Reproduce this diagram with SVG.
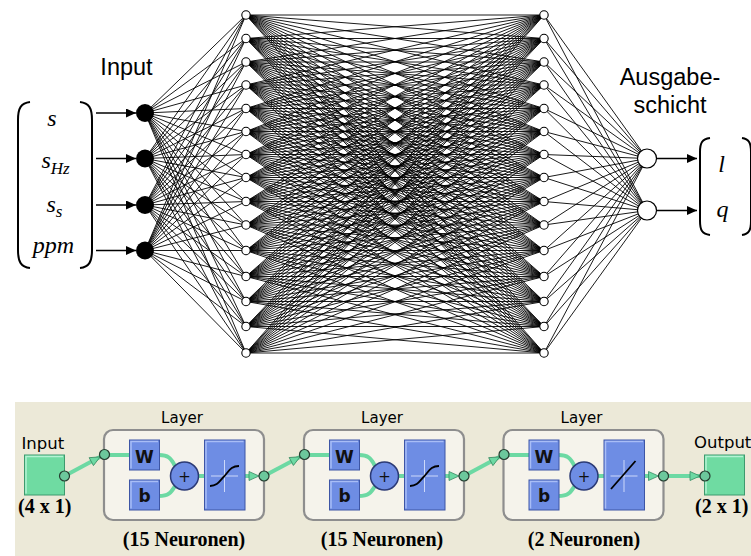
<svg xmlns="http://www.w3.org/2000/svg" width="751" height="556" viewBox="0 0 751 556">
<style>
.e{stroke:#000;stroke-width:0.9;fill:none}
.hn{fill:#fff;stroke:#000;stroke-width:1.1}
.in{fill:#000}
.on{fill:#fff;stroke:#000;stroke-width:1.2}
.ar{stroke:#000;stroke-width:1.4;fill:none}
.br{stroke:#000;stroke-width:2;fill:none}
.mt{font-family:"Liberation Serif","Times New Roman",serif;font-style:italic;font-size:24px;fill:#000}
.sb{font-size:17px}
.lb{font-family:"Liberation Sans",Arial,sans-serif;font-size:23.5px;fill:#000}
.pn{fill:#ECE9D8}
.ly{fill:#F5F3EB;stroke:#8E8E8E;stroke-width:2.2}
.gt{font-family:"DejaVu Sans",Verdana,sans-serif;font-size:15px;fill:#000}
.gl{font-family:"DejaVu Sans",Verdana,sans-serif;font-size:16.5px;fill:#000}
.bt{font-family:"Liberation Serif","Times New Roman",serif;font-weight:bold;font-size:20px;fill:#000}
.gb{fill:#6FDBA2;stroke:#3E9A6E;stroke-width:1}
.gbl{stroke:#B4F3D4;stroke-width:1.5;fill:none}
.bb{fill:#6E8DE4;stroke:#3D55A5;stroke-width:1}
.bbl{stroke:#A8BDF6;stroke-width:1.5;fill:none}
.gc{stroke:#6CD9A3;stroke-width:4;fill:none}
.pc{fill:#6CC89C;stroke:#253D30;stroke-width:1.2}
.ga{fill:#6CD9A3;stroke:#3A8C64;stroke-width:0.8}
.sc{fill:#6E8DE4;stroke:#2B3A75;stroke-width:1.5}
.wt{font-family:"DejaVu Sans",Verdana,sans-serif;font-size:17px;font-weight:bold;fill:#111}
.pt{font-family:"DejaVu Sans",Verdana,sans-serif;font-size:15px;fill:#111}
.xh{stroke:#E6ECFF;stroke-width:0.8;fill:none}
.tf{stroke:#000;stroke-width:1.8;fill:none}
</style>
<defs>
<marker id="ah" markerUnits="userSpaceOnUse" markerWidth="12" markerHeight="10" refX="10" refY="4.5" orient="auto"><path d="M0,0L10,4.5L0,9Z" fill="#000"/></marker>
<path id="ga" class="ga" d="M-10,-4.5L0,0L-10,4.5Z"/>
</defs>

<!-- bottom panel background -->
<rect class="pn" x="15" y="402" width="736" height="154"/>

<g id="connectors">
<g id="in-hidden">
<path class="e" d="M145 113 246 15M145 113 246 38.5M145 113 246 62M145 113 246 85M145 113 246 108.5M145 113 246 131.5M145 113 246 154.5M145 113 246 177.5M145 113 246 201.5M145 113 246 225M145 113 246 250.5M145 113 246 276.5M145 113 246 301.5M145 113 246 326.5M145 113 246 353"/>
<path class="e" d="M145 158.5 246 15M145 158.5 246 38.5M145 158.5 246 62M145 158.5 246 85M145 158.5 246 108.5M145 158.5 246 131.5M145 158.5 246 154.5M145 158.5 246 177.5M145 158.5 246 201.5M145 158.5 246 225M145 158.5 246 250.5M145 158.5 246 276.5M145 158.5 246 301.5M145 158.5 246 326.5M145 158.5 246 353"/>
<path class="e" d="M145 205 246 15M145 205 246 38.5M145 205 246 62M145 205 246 85M145 205 246 108.5M145 205 246 131.5M145 205 246 154.5M145 205 246 177.5M145 205 246 201.5M145 205 246 225M145 205 246 250.5M145 205 246 276.5M145 205 246 301.5M145 205 246 326.5M145 205 246 353"/>
<path class="e" d="M145 250.5 246 15M145 250.5 246 38.5M145 250.5 246 62M145 250.5 246 85M145 250.5 246 108.5M145 250.5 246 131.5M145 250.5 246 154.5M145 250.5 246 177.5M145 250.5 246 201.5M145 250.5 246 225M145 250.5 246 250.5M145 250.5 246 276.5M145 250.5 246 301.5M145 250.5 246 326.5M145 250.5 246 353"/>
</g>
<g id="hidden-hidden">
<path class="e" d="M246 15 544 15M246 15 544 38.5M246 15 544 62M246 15 544 85M246 15 544 108.5M246 15 544 131.5M246 15 544 154.5M246 15 544 177.5M246 15 544 201.5M246 15 544 225M246 15 544 250.5M246 15 544 276.5M246 15 544 301.5M246 15 544 326.5M246 15 544 353"/>
<path class="e" d="M246 38.5 544 15M246 38.5 544 38.5M246 38.5 544 62M246 38.5 544 85M246 38.5 544 108.5M246 38.5 544 131.5M246 38.5 544 154.5M246 38.5 544 177.5M246 38.5 544 201.5M246 38.5 544 225M246 38.5 544 250.5M246 38.5 544 276.5M246 38.5 544 301.5M246 38.5 544 326.5M246 38.5 544 353"/>
<path class="e" d="M246 62 544 15M246 62 544 38.5M246 62 544 62M246 62 544 85M246 62 544 108.5M246 62 544 131.5M246 62 544 154.5M246 62 544 177.5M246 62 544 201.5M246 62 544 225M246 62 544 250.5M246 62 544 276.5M246 62 544 301.5M246 62 544 326.5M246 62 544 353"/>
<path class="e" d="M246 85 544 15M246 85 544 38.5M246 85 544 62M246 85 544 85M246 85 544 108.5M246 85 544 131.5M246 85 544 154.5M246 85 544 177.5M246 85 544 201.5M246 85 544 225M246 85 544 250.5M246 85 544 276.5M246 85 544 301.5M246 85 544 326.5M246 85 544 353"/>
<path class="e" d="M246 108.5 544 15M246 108.5 544 38.5M246 108.5 544 62M246 108.5 544 85M246 108.5 544 108.5M246 108.5 544 131.5M246 108.5 544 154.5M246 108.5 544 177.5M246 108.5 544 201.5M246 108.5 544 225M246 108.5 544 250.5M246 108.5 544 276.5M246 108.5 544 301.5M246 108.5 544 326.5M246 108.5 544 353"/>
<path class="e" d="M246 131.5 544 15M246 131.5 544 38.5M246 131.5 544 62M246 131.5 544 85M246 131.5 544 108.5M246 131.5 544 131.5M246 131.5 544 154.5M246 131.5 544 177.5M246 131.5 544 201.5M246 131.5 544 225M246 131.5 544 250.5M246 131.5 544 276.5M246 131.5 544 301.5M246 131.5 544 326.5M246 131.5 544 353"/>
<path class="e" d="M246 154.5 544 15M246 154.5 544 38.5M246 154.5 544 62M246 154.5 544 85M246 154.5 544 108.5M246 154.5 544 131.5M246 154.5 544 154.5M246 154.5 544 177.5M246 154.5 544 201.5M246 154.5 544 225M246 154.5 544 250.5M246 154.5 544 276.5M246 154.5 544 301.5M246 154.5 544 326.5M246 154.5 544 353"/>
<path class="e" d="M246 177.5 544 15M246 177.5 544 38.5M246 177.5 544 62M246 177.5 544 85M246 177.5 544 108.5M246 177.5 544 131.5M246 177.5 544 154.5M246 177.5 544 177.5M246 177.5 544 201.5M246 177.5 544 225M246 177.5 544 250.5M246 177.5 544 276.5M246 177.5 544 301.5M246 177.5 544 326.5M246 177.5 544 353"/>
<path class="e" d="M246 201.5 544 15M246 201.5 544 38.5M246 201.5 544 62M246 201.5 544 85M246 201.5 544 108.5M246 201.5 544 131.5M246 201.5 544 154.5M246 201.5 544 177.5M246 201.5 544 201.5M246 201.5 544 225M246 201.5 544 250.5M246 201.5 544 276.5M246 201.5 544 301.5M246 201.5 544 326.5M246 201.5 544 353"/>
<path class="e" d="M246 225 544 15M246 225 544 38.5M246 225 544 62M246 225 544 85M246 225 544 108.5M246 225 544 131.5M246 225 544 154.5M246 225 544 177.5M246 225 544 201.5M246 225 544 225M246 225 544 250.5M246 225 544 276.5M246 225 544 301.5M246 225 544 326.5M246 225 544 353"/>
<path class="e" d="M246 250.5 544 15M246 250.5 544 38.5M246 250.5 544 62M246 250.5 544 85M246 250.5 544 108.5M246 250.5 544 131.5M246 250.5 544 154.5M246 250.5 544 177.5M246 250.5 544 201.5M246 250.5 544 225M246 250.5 544 250.5M246 250.5 544 276.5M246 250.5 544 301.5M246 250.5 544 326.5M246 250.5 544 353"/>
<path class="e" d="M246 276.5 544 15M246 276.5 544 38.5M246 276.5 544 62M246 276.5 544 85M246 276.5 544 108.5M246 276.5 544 131.5M246 276.5 544 154.5M246 276.5 544 177.5M246 276.5 544 201.5M246 276.5 544 225M246 276.5 544 250.5M246 276.5 544 276.5M246 276.5 544 301.5M246 276.5 544 326.5M246 276.5 544 353"/>
<path class="e" d="M246 301.5 544 15M246 301.5 544 38.5M246 301.5 544 62M246 301.5 544 85M246 301.5 544 108.5M246 301.5 544 131.5M246 301.5 544 154.5M246 301.5 544 177.5M246 301.5 544 201.5M246 301.5 544 225M246 301.5 544 250.5M246 301.5 544 276.5M246 301.5 544 301.5M246 301.5 544 326.5M246 301.5 544 353"/>
<path class="e" d="M246 326.5 544 15M246 326.5 544 38.5M246 326.5 544 62M246 326.5 544 85M246 326.5 544 108.5M246 326.5 544 131.5M246 326.5 544 154.5M246 326.5 544 177.5M246 326.5 544 201.5M246 326.5 544 225M246 326.5 544 250.5M246 326.5 544 276.5M246 326.5 544 301.5M246 326.5 544 326.5M246 326.5 544 353"/>
<path class="e" d="M246 353 544 15M246 353 544 38.5M246 353 544 62M246 353 544 85M246 353 544 108.5M246 353 544 131.5M246 353 544 154.5M246 353 544 177.5M246 353 544 201.5M246 353 544 225M246 353 544 250.5M246 353 544 276.5M246 353 544 301.5M246 353 544 326.5M246 353 544 353"/>
</g>
<g id="hidden-out">
<path class="e" d="M647 158.5 544 15M647 158.5 544 38.5M647 158.5 544 62M647 158.5 544 85M647 158.5 544 108.5M647 158.5 544 131.5M647 158.5 544 154.5M647 158.5 544 177.5M647 158.5 544 201.5M647 158.5 544 225M647 158.5 544 250.5M647 158.5 544 276.5M647 158.5 544 301.5M647 158.5 544 326.5M647 158.5 544 353"/>
<path class="e" d="M647 210.5 544 15M647 210.5 544 38.5M647 210.5 544 62M647 210.5 544 85M647 210.5 544 108.5M647 210.5 544 131.5M647 210.5 544 154.5M647 210.5 544 177.5M647 210.5 544 201.5M647 210.5 544 225M647 210.5 544 250.5M647 210.5 544 276.5M647 210.5 544 301.5M647 210.5 544 326.5M647 210.5 544 353"/>
</g>
<g id="io-arrows">
<path class="ar" marker-end="url(#ah)" d="M96 113H136"/>
<path class="ar" marker-end="url(#ah)" d="M96 158.5H136"/>
<path class="ar" marker-end="url(#ah)" d="M96 205H136"/>
<path class="ar" marker-end="url(#ah)" d="M96 250.5H136"/>
<path class="ar" marker-end="url(#ah)" d="M657 158.5H697"/>
<path class="ar" marker-end="url(#ah)" d="M657 210.5H697"/>
</g>
<g id="block-wires">
<path class="gc" d="M64.5 476L104.5 454.5"/>
<use href="#ga" transform="translate(100.1,456.9) rotate(-28.3)"/>
<path class="gc" d="M264 476L304.5 454.5"/>
<use href="#ga" transform="translate(300.1,456.8) rotate(-28)"/>
<path class="gc" d="M464 476L504 454.5"/>
<use href="#ga" transform="translate(499.6,456.9) rotate(-28.3)"/>
<path class="gc" d="M663.5 476H705"/>
<use href="#ga" transform="translate(700,476)"/>
</g>
</g>

<!-- input vector -->
<g id="input-vector">
<path class="br" d="M30 102C21 103 18 108 18 120V250C18 262 21 267 30 268"/>
<path class="br" d="M80 102C89 103 92 108 92 120V250C92 262 89 267 80 268"/>
<text class="mt" x="52" y="126" text-anchor="middle">s</text>
<text class="mt" x="41.5" y="168">s<tspan class="sb" dy="6">Hz</tspan></text>
<text class="mt" x="46.5" y="212">s<tspan class="sb" dy="5">s</tspan></text>
<text class="mt" x="53.5" y="253" text-anchor="middle">ppm</text>
</g>
<text class="lb" x="126.5" y="75" text-anchor="middle">Input</text>

<g id="in-1"><circle class="in" cx="145" cy="113" r="9"/></g>
<g id="in-2"><circle class="in" cx="145" cy="158.5" r="9"/></g>
<g id="in-3"><circle class="in" cx="145" cy="205" r="9"/></g>
<g id="in-4"><circle class="in" cx="145" cy="250.5" r="9"/></g>

<g id="h1-01"><circle class="hn" cx="246" cy="15" r="4.2"/></g>
<g id="h1-02"><circle class="hn" cx="246" cy="38.5" r="4.2"/></g>
<g id="h1-03"><circle class="hn" cx="246" cy="62" r="4.2"/></g>
<g id="h1-04"><circle class="hn" cx="246" cy="85" r="4.2"/></g>
<g id="h1-05"><circle class="hn" cx="246" cy="108.5" r="4.2"/></g>
<g id="h1-06"><circle class="hn" cx="246" cy="131.5" r="4.2"/></g>
<g id="h1-07"><circle class="hn" cx="246" cy="154.5" r="4.2"/></g>
<g id="h1-08"><circle class="hn" cx="246" cy="177.5" r="4.2"/></g>
<g id="h1-09"><circle class="hn" cx="246" cy="201.5" r="4.2"/></g>
<g id="h1-10"><circle class="hn" cx="246" cy="225" r="4.2"/></g>
<g id="h1-11"><circle class="hn" cx="246" cy="250.5" r="4.2"/></g>
<g id="h1-12"><circle class="hn" cx="246" cy="276.5" r="4.2"/></g>
<g id="h1-13"><circle class="hn" cx="246" cy="301.5" r="4.2"/></g>
<g id="h1-14"><circle class="hn" cx="246" cy="326.5" r="4.2"/></g>
<g id="h1-15"><circle class="hn" cx="246" cy="353" r="4.2"/></g>

<g id="h2-01"><circle class="hn" cx="544" cy="15" r="4.2"/></g>
<g id="h2-02"><circle class="hn" cx="544" cy="38.5" r="4.2"/></g>
<g id="h2-03"><circle class="hn" cx="544" cy="62" r="4.2"/></g>
<g id="h2-04"><circle class="hn" cx="544" cy="85" r="4.2"/></g>
<g id="h2-05"><circle class="hn" cx="544" cy="108.5" r="4.2"/></g>
<g id="h2-06"><circle class="hn" cx="544" cy="131.5" r="4.2"/></g>
<g id="h2-07"><circle class="hn" cx="544" cy="154.5" r="4.2"/></g>
<g id="h2-08"><circle class="hn" cx="544" cy="177.5" r="4.2"/></g>
<g id="h2-09"><circle class="hn" cx="544" cy="201.5" r="4.2"/></g>
<g id="h2-10"><circle class="hn" cx="544" cy="225" r="4.2"/></g>
<g id="h2-11"><circle class="hn" cx="544" cy="250.5" r="4.2"/></g>
<g id="h2-12"><circle class="hn" cx="544" cy="276.5" r="4.2"/></g>
<g id="h2-13"><circle class="hn" cx="544" cy="301.5" r="4.2"/></g>
<g id="h2-14"><circle class="hn" cx="544" cy="326.5" r="4.2"/></g>
<g id="h2-15"><circle class="hn" cx="544" cy="353" r="4.2"/></g>

<g id="out-1"><circle class="on" cx="647" cy="158.5" r="9.5"/></g>
<g id="out-2"><circle class="on" cx="647" cy="210.5" r="9.5"/></g>

<text class="lb" x="670" y="85" text-anchor="middle">Ausgabe-</text>
<text class="lb" x="670" y="113" text-anchor="middle">schicht</text>

<g id="output-vector">
<path class="br" d="M710 138C702 139 700 143 700 152V221C700 230 702 234 710 235"/>
<path class="br" d="M742 138C749 139 751 143 751 152V221C751 230 749 234 742 235"/>
<text class="mt" x="721.5" y="172" text-anchor="middle">l</text>
<text class="mt" x="722.5" y="217" text-anchor="middle">q</text>
</g>

<!-- bottom: block diagram -->
<g id="block-input">
<text class="gl" x="21.5" y="449">Input</text>
<rect class="gb" x="24.5" y="455" width="40" height="40"/>
<path class="gbl" d="M26 493.5V456.5H63"/>
<circle class="pc" cx="64.5" cy="476" r="5"/>
<text class="bt" x="18" y="513">(4 x 1)</text>
</g>

<g id="layer1" transform="translate(104,0)">
<text class="gt" x="78" y="423" text-anchor="middle">Layer</text>
<rect class="ly" x="0" y="430" width="160" height="90" rx="9"/>
<path class="gc" d="M0.5 455H26M55 455C64 455 67 458 71 466M55 496C64 496 67 493 71 486M94 476H101M141 476H150"/>
<rect class="bb" x="25.5" y="440" width="30" height="30"/><path class="bbl" d="M27 468.5V441.5H54"/>
<text class="wt" x="40.5" y="462.5" text-anchor="middle">W</text>
<rect class="bb" x="25.5" y="480" width="30" height="30"/><path class="bbl" d="M27 508.5V481.5H54"/>
<text class="wt" x="40.5" y="502" text-anchor="middle">b</text>
<circle class="sc" cx="80.5" cy="476" r="14"/>
<text class="pt" x="80.5" y="481.5" text-anchor="middle">+</text>
<rect class="bb" x="100.5" y="440" width="40.5" height="70"/><path class="bbl" d="M102 508.5V441.5H139.5"/>
<path class="xh" d="M107 476H134M120.5 460V492"/>
<path class="tf" d="M106 486C114 486 116 480 120.5 476C125 471 127 466 135 466"/>
<use href="#ga" transform="translate(155,476)"/>
<circle class="pc" cx="0.5" cy="454.5" r="5"/>
<circle class="pc" cx="160" cy="476" r="5"/>
<text class="bt" x="80" y="546" text-anchor="middle">(15 Neuronen)</text>
</g>

<g id="layer2" transform="translate(304,0)">
<text class="gt" x="78" y="423" text-anchor="middle">Layer</text>
<rect class="ly" x="0" y="430" width="160" height="90" rx="9"/>
<path class="gc" d="M0.5 455H26M55 455C64 455 67 458 71 466M55 496C64 496 67 493 71 486M94 476H101M141 476H150"/>
<rect class="bb" x="25.5" y="440" width="30" height="30"/><path class="bbl" d="M27 468.5V441.5H54"/>
<text class="wt" x="40.5" y="462.5" text-anchor="middle">W</text>
<rect class="bb" x="25.5" y="480" width="30" height="30"/><path class="bbl" d="M27 508.5V481.5H54"/>
<text class="wt" x="40.5" y="502" text-anchor="middle">b</text>
<circle class="sc" cx="80.5" cy="476" r="14"/>
<text class="pt" x="80.5" y="481.5" text-anchor="middle">+</text>
<rect class="bb" x="100.5" y="440" width="40.5" height="70"/><path class="bbl" d="M102 508.5V441.5H139.5"/>
<path class="xh" d="M107 476H134M120.5 460V492"/>
<path class="tf" d="M106 486C114 486 116 480 120.5 476C125 471 127 466 135 466"/>
<use href="#ga" transform="translate(155,476)"/>
<circle class="pc" cx="0.5" cy="454.5" r="5"/>
<circle class="pc" cx="160" cy="476" r="5"/>
<text class="bt" x="78" y="546" text-anchor="middle">(15 Neuronen)</text>
</g>

<g id="layer3" transform="translate(503.5,0)">
<text class="gt" x="78" y="423" text-anchor="middle">Layer</text>
<rect class="ly" x="0" y="430" width="160" height="90" rx="9"/>
<path class="gc" d="M0.5 455H26M55 455C64 455 67 458 71 466M55 496C64 496 67 493 71 486M94 476H101M141 476H150"/>
<rect class="bb" x="25.5" y="440" width="30" height="30"/><path class="bbl" d="M27 468.5V441.5H54"/>
<text class="wt" x="40.5" y="462.5" text-anchor="middle">W</text>
<rect class="bb" x="25.5" y="480" width="30" height="30"/><path class="bbl" d="M27 508.5V481.5H54"/>
<text class="wt" x="40.5" y="502" text-anchor="middle">b</text>
<circle class="sc" cx="80.5" cy="476" r="14"/>
<text class="pt" x="80.5" y="481.5" text-anchor="middle">+</text>
<rect class="bb" x="100.5" y="440" width="40.5" height="70"/><path class="bbl" d="M102 508.5V441.5H139.5"/>
<path class="xh" d="M107 476H134M120.5 460V492"/>
<path class="tf" d="M107.5 489L132 461"/>
<use href="#ga" transform="translate(155,476)"/>
<circle class="pc" cx="0.5" cy="454.5" r="5"/>
<circle class="pc" cx="160" cy="476" r="5"/>
<text class="bt" x="80.5" y="546" text-anchor="middle">(2 Neuronen)</text>
</g>

<g id="block-output">
<text class="gl" x="694" y="447.5">Output</text>
<rect class="gb" x="704.5" y="455" width="40" height="40"/>
<path class="gbl" d="M706 493.5V456.5H743"/>
<circle class="pc" cx="705" cy="476" r="5"/>
<text class="bt" x="695" y="513">(2 x 1)</text>
</g>
</svg>
